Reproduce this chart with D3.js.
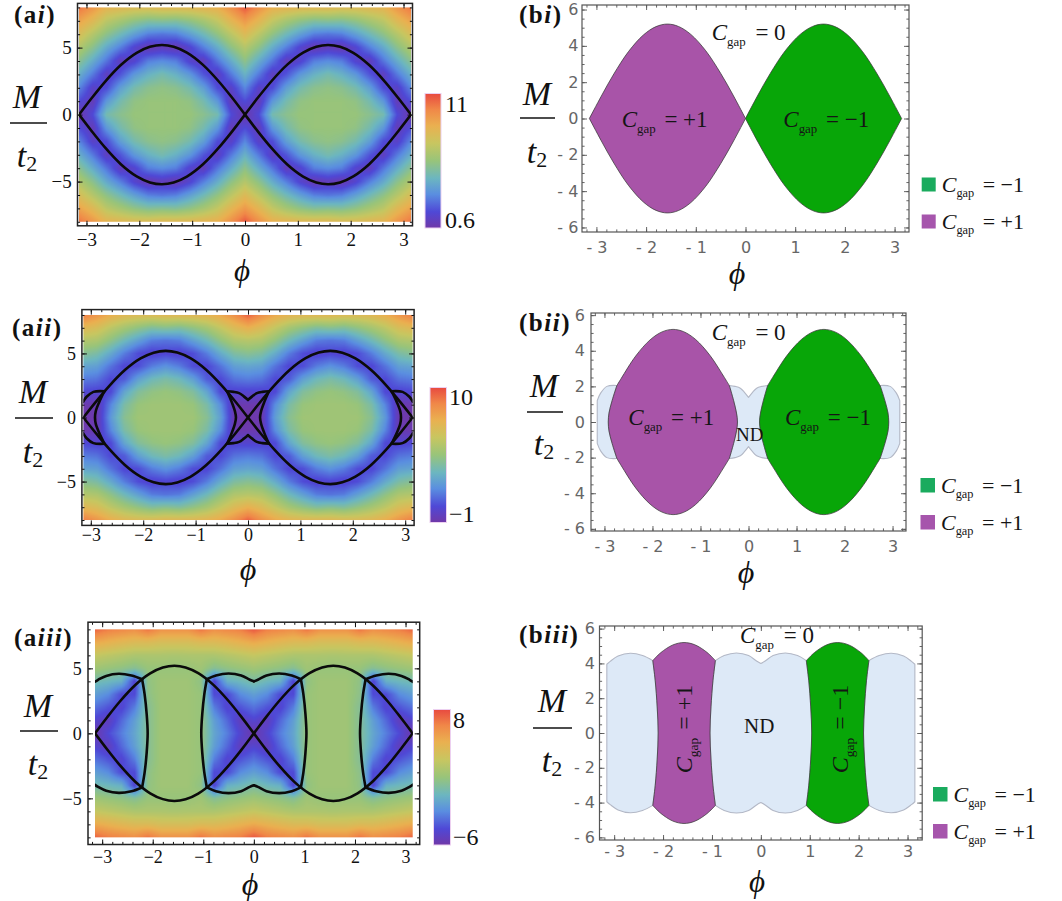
<!DOCTYPE html>
<html>
<head>
<meta charset="utf-8">
<script src="https://cdn.jsdelivr.net/npm/d3@7/dist/d3.min.js"></script>
<style>
  html,body{margin:0;padding:0;background:#fff;}
  svg{display:block;}
</style>
</head>
<body>
<svg id="fig" width="1062" height="901" xmlns="http://www.w3.org/2000/svg"></svg>
<script>
// ================= DATA =================
// phase boundary |M|/t2 versus phi for phi in [0, pi]
const lensPhi = [0, 0.25, 0.5, 0.8, 1.1, 1.35, 1.571, 1.8, 2.05, 2.35, 2.65, 2.9, 3.1416];
const lensM   = [0, 1.29, 2.49, 3.73, 4.63, 5.07, 5.2, 5.06, 4.61, 3.70, 2.45, 1.24, 0];

// panel (ii): region edges in the phi>0, M>=0 quadrant  [phi, M]
const edgeInnerII   = [[0.40,2.05],[0.31,1.2],[0.25,0.5],[0.23,0]];
const edgeOuterII   = [[2.74,2.05],[2.84,1.2],[2.905,0.5],[2.92,0]];
const ndTopCenterII = [[0.40,2.05],[0.28,2.0],[0.17,1.9],[0.08,1.65],[0,1.38]];
const ndTopEdgeII   = [[2.74,2.05],[2.95,2.0],[3.08,1.62],[3.15,1.2]];
// panel (iii)
const edgeInnerIII   = [[0.93,4.16],[0.98,3.0],[1.02,1.5],[1.04,0]];
const edgeOuterIII   = [[2.21,4.16],[2.16,3.0],[2.12,1.5],[2.10,0]];
const ndTopCenterIII = [[0.93,4.16],[0.75,4.45],[0.5,4.6],[0.25,4.45],[0.08,4.12],[0,4.0]];
const ndTopEdgeIII   = [[2.21,4.16],[2.42,4.45],[2.67,4.58],[2.92,4.42],[3.08,4.12],[3.15,3.95]];

// heat maps: values sampled at phi = 0..180 deg (columns) and |M|/t2 = 0..8 (rows)
const heatPhiDeg = [0,15,30,45,60,75,90,105,120,135,150,165,180];
const heatM = [0,1,2,3,4,5,6,7,8];
const heatAi = [
  [0.6,1.9,4.8,5.4,5.8,5.8,5.8,5.8,5.8,5.4,4.8,1.9,0.6],
  [1.9,1.0,3.5,4.8,5.6,5.8,5.8,5.8,5.6,4.8,3.5,1.0,1.9],
  [3.1,1.4,1.9,3.7,4.8,5.4,5.6,5.4,4.8,3.7,1.9,1.4,3.1],
  [4.3,2.8,1.2,2.1,3.5,4.3,4.8,4.3,3.5,2.1,1.2,2.8,4.2],
  [5.5,4.1,2.7,1.1,1.6,2.9,3.2,2.9,1.6,1.1,2.7,4.1,5.4],
  [6.6,5.5,4.1,2.9,1.6,0.8,1.1,0.8,1.6,2.9,4.0,5.4,6.5],
  [7.9,6.8,5.6,4.6,3.7,2.9,2.7,2.9,3.7,4.6,5.5,6.6,7.7],
  [9.2,8.2,7.0,6.2,5.6,5.2,5.3,5.2,5.6,6.2,6.8,8.0,8.9],
  [10.7,9.5,8.5,8.3,8.1,8.1,8.1,7.9,7.9,8.1,8.3,9.3,10.2]
];
const heatAii = [
  [-1.0,-0.8,2.3,4.0,4.7,4.7,4.7,4.7,4.7,4.0,2.1,-0.8,-1.0],
  [-0.8,-0.8,1.8,3.6,4.5,4.7,4.7,4.7,4.5,3.6,1.6,-0.7,-0.8],
  [0.1,0.1,0.3,2.5,3.8,4.3,4.5,4.3,3.8,2.5,0.3,0.1,0.3],
  [1.4,1.2,0.3,0.7,2.3,3.2,3.6,3.2,2.3,0.7,0.3,1.2,1.4],
  [2.5,2.3,1.2,0.2,0.4,1.4,1.9,1.4,0.4,0.2,1.2,2.3,2.5],
  [4.0,3.7,2.7,1.4,0.4,0.0,0.2,0.0,0.4,1.4,2.6,3.6,4.0],
  [5.4,5.2,4.3,3.2,2.3,1.4,1.2,1.4,2.3,3.2,4.2,5.1,5.3],
  [7.3,6.7,5.8,4.9,4.3,3.8,4.0,3.8,4.3,4.9,5.6,6.5,6.9],
  [9.5,8.4,7.6,7.1,6.9,6.9,6.9,6.7,6.7,6.9,7.4,8.2,8.9]
];
const heatAiii = [
  [-6.0,-4.6,-2.9,-1.5,1.0,1.3,1.3,1.3,0.3,-1.5,-2.9,-4.3,-6.0],
  [-4.6,-5.3,-3.5,-1.8,1.0,1.3,1.3,1.3,0.3,-1.8,-3.5,-5.3,-4.6],
  [-3.2,-4.0,-4.6,-2.9,1.0,1.3,1.3,1.3,0.3,-2.9,-4.6,-4.0,-3.2],
  [-1.8,-2.5,-4.3,-4.3,1.0,1.3,1.3,1.3,0.6,-4.3,-4.3,-2.5,-1.8],
  [-0.1,-0.7,-1.1,-4.6,0.7,1.3,1.3,1.3,0.7,-4.6,-1.1,-0.7,-0.4],
  [1.3,1.0,0.7,0.3,1.3,1.0,1.0,1.0,1.0,0.3,0.7,1.0,1.3],
  [2.7,2.4,2.1,1.8,1.8,1.8,1.7,1.8,1.8,1.8,2.1,2.4,2.7],
  [4.9,4.5,4.1,3.8,3.8,3.5,3.5,3.5,3.8,3.8,4.1,4.5,4.9],
  [7.6,6.6,6.3,6.0,6.9,5.9,5.9,5.9,6.9,6.0,6.3,6.6,7.3]
];

// colour bars
const cbRangeAi = [0.6, 11];
const cbRangeAii = [-1, 10];
const cbRangeAiii = [-6, 8];
const cbLabelsAi = ["11", "0.6"];
const cbLabelsAii = ["10", "\u22121"];
const cbLabelsAiii = ["8", "\u22126"];
const cbPos = [0, 0.12, 0.25, 0.37, 0.5, 0.63, 0.76, 0.88, 1];

// ticks
const aTicksX = [-3,-2,-1,0,1,2,3];
const aTicksY = [-5,0,5];
const bTicksX = [-3,-2,-1,0,1,2,3];
const bTicksY = [-6,-4,-2,0,2,4,6];

// labels
const legendValues = ["\u22121", "+1"];
const regionValues = {zero:"0", plus:"+1", minus:"\u22121"};

// ================= STYLE =================
const cbColors = ["#7038a8","#4f48d6","#5a8ee0","#6cb6c0","#98c47a","#c8c660","#eab050","#f08848","#e84a40"];
const COL = {plus:"#a854a8", minus:"#08a608", nd:"#dde9f7", ndStroke:"#b3b8c6",
             legMinus:"#1aab5e", legPlus:"#a655ac"};
const SERIF = "'Liberation Serif','DejaVu Serif',serif";
const SANS = "'DejaVu Sans',sans-serif";
const PI = Math.PI;

const layout = {
  ai:  {x:[77.5,412.5],  xd:[-3.17,3.17], y:[225.8,3.4],   yd:[-8.3,8.3]},
  aii: {x:[81.9,414.1],  xd:[-3.17,3.17], y:[525.4,309.6], yd:[-8.42,8.42]},
  aiii:{x:[88,419.7],    xd:[-3.28,3.28], y:[844.5,622.2], yd:[-8.55,8.55]},
  bi:  {x:[582,909],     xd:[-3.29,3.29], y:[232,5],       yd:[-6.25,6.25]},
  bii: {x:[591,906],     xd:[-3.28,3.28], y:[531,313],     yd:[-6.12,6.12]},
  biii:{x:[599.5,922.2], xd:[-3.3,3.3],   y:[840,626],     yd:[-6.15,6.15]}
};

// ================= HELPERS =================
const svg = d3.select('#fig');
const defs = svg.append('defs');
const mirP = pts => pts.map(([p,m]) => [-p, m]);
const mirM = pts => pts.map(([p,m]) => [p, -m]);
const rev = pts => pts.slice().reverse();
const fullEdge = half => half.concat(rev(mirM(half)).slice(1));
const lensPts = lensPhi.map((p,i) => [p, lensM[i]]);
const curveA = rev(lensPts).slice(0,-1).map(([p,m]) => [-p,-m]).concat(lensPts);
const curveB = mirM(curveA);
function lensBetween(a, b){
  return [a].concat(lensPts.filter(p => p[0] > a[0]+0.04 && p[0] < b[0]-0.04)).concat([b]);
}
function scales(L){
  return {x: d3.scaleLinear().domain(L.xd).range(L.x), y: d3.scaleLinear().domain(L.yd).range(L.y)};
}
function segPath(s, segs, closed){
  const ln = d3.line().x(d => s.x(d[0])).y(d => s.y(d[1])).curve(d3.curveCatmullRom.alpha(0.5));
  return segs.map((sg,i) => { const d = ln(sg); return i ? d.replace(/^M/, 'L') : d; }).join('') + (closed ? 'Z' : '');
}
function colorScale(range){
  return d3.scaleLinear().domain(cbPos.map(p => range[0] + p*(range[1]-range[0])))
    .range(cbColors).interpolate(d3.interpolateRgb).clamp(true);
}
function heatURL(grid, range, w, h){
  const cs = colorScale(range);
  const lut = d3.range(256).map(i => d3.rgb(cs(range[0] + i/255*(range[1]-range[0]))));
  const cv = document.createElement('canvas'); cv.width = w; cv.height = h;
  const ctx = cv.getContext('2d'); const im = ctx.createImageData(w, h);
  const stepPhi = (heatPhiDeg[1]-heatPhiDeg[0])*PI/180, stepM = heatM[1]-heatM[0];
  const nC = heatPhiDeg.length-1, nR = heatM.length-1, Mmax = heatM[nR];
  for (let j=0; j<h; j++){
    const M = Mmax - (j+0.5)/h*2*Mmax;
    let fy = Math.min(Math.abs(M)/stepM, nR); const r0 = Math.min(Math.floor(fy), nR-1); fy -= r0;
    for (let i=0; i<w; i++){
      const phi = -PI + (i+0.5)/w*2*PI;
      let fx = Math.min(Math.abs(phi)/stepPhi, nC); const c0 = Math.min(Math.floor(fx), nC-1); fx -= c0;
      const v = (1-fy)*((1-fx)*grid[r0][c0] + fx*grid[r0][c0+1]) + fy*((1-fx)*grid[r0+1][c0] + fx*grid[r0+1][c0+1]);
      let t = (v-range[0])/(range[1]-range[0]); t = Math.max(0, Math.min(1, t));
      const c = lut[Math.round(t*255)], k = (j*w+i)*4;
      im.data[k]=c.r; im.data[k+1]=c.g; im.data[k+2]=c.b; im.data[k+3]=255;
    }
  }
  ctx.putImageData(im, 0, 0);
  return cv.toDataURL('image/png');
}
function axesFrame(g, s, L, o){
  const [yb, yt] = L.y, [xl, xr] = L.x;
  const rng = (lo, hi, st) => d3.range(Math.ceil(lo/st), Math.floor(hi/st)+1).map(k => +(k*st).toFixed(3));
  const xMin = rng(L.xd[0], L.xd[1], o.xMinStep), yMin = rng(L.yd[0], L.yd[1], o.yMinStep);
  const sides = [
    {fn:d3.axisBottom, sc:s.x, tr:`translate(0,${yb})`, maj:o.xMaj, min:xMin, lab:true, pad:o.padX},
    {fn:d3.axisTop,    sc:s.x, tr:`translate(0,${yt})`, maj:o.xMaj, min:xMin, lab:false},
    {fn:d3.axisLeft,   sc:s.y, tr:`translate(${xl},0)`, maj:o.yMaj, min:yMin, lab:true, pad:o.padY},
    {fn:d3.axisRight,  sc:s.y, tr:`translate(${xr},0)`, maj:o.yMaj, min:yMin, lab:false}
  ];
  sides.forEach(sd => {
    const gm = g.append('g').attr('transform', sd.tr)
      .call(sd.fn(sd.sc).tickValues(sd.min).tickSize(-o.minLen).tickSizeOuter(0).tickFormat(''));
    gm.select('.domain').remove();
    gm.selectAll('line').attr('stroke', o.tickColor).attr('stroke-width', o.tickW);
    const ga = g.append('g').attr('transform', sd.tr)
      .call(sd.fn(sd.sc).tickValues(sd.maj).tickSize(-o.majLen).tickSizeOuter(0)
        .tickPadding(sd.lab ? sd.pad : 0).tickFormat(sd.lab ? o.fmt : ''));
    ga.select('.domain').remove();
    ga.selectAll('line').attr('stroke', o.tickColor).attr('stroke-width', o.tickW);
    ga.selectAll('text').attr('font-family', o.font).attr('font-size', o.fs).attr('fill', o.labColor);
  });
  g.append('rect').attr('x', xl).attr('y', yt).attr('width', xr-xl).attr('height', yb-yt)
    .attr('fill', 'none').attr('stroke', o.frameColor).attr('stroke-width', o.frameW);
}
const fmtA = d => d < 0 ? '\u2212' + (-d) : String(d);
const fmtB = d => d < 0 ? '- ' + (-d) : String(d);

function title(x, y, letter, roman){
  const t = svg.append('text').attr('x', x).attr('y', y).attr('font-family', SERIF)
    .attr('font-weight', 'bold').attr('font-size', 25).attr('letter-spacing', 1.5).attr('fill', '#111');
  t.append('tspan').text('(' + letter);
  t.append('tspan').attr('font-style', 'italic').text(roman);
  t.append('tspan').text(')');
}
function mLabel(cx, bM, lx0, lx1, ly, bt){
  svg.append('text').attr('x', cx).attr('y', bM).attr('text-anchor', 'middle').attr('font-family', SERIF)
    .attr('font-style', 'italic').attr('font-size', 34).attr('fill', '#111').text('M');
  svg.append('line').attr('x1', lx0).attr('x2', lx1).attr('y1', ly).attr('y2', ly).attr('stroke', '#111').attr('stroke-width', 1.4);
  const t = svg.append('text').attr('x', cx).attr('y', bt).attr('text-anchor', 'middle').attr('font-family', SERIF)
    .attr('font-size', 34).attr('fill', '#111');
  t.append('tspan').attr('font-style', 'italic').text('t');
  t.append('tspan').attr('font-size', 22).attr('dy', 4).text('2');
}
function phiLabel(cx, by, fs){
  svg.append('text').attr('x', cx).attr('y', by).attr('text-anchor', 'middle').attr('font-family', SERIF)
    .attr('font-style', 'italic').attr('font-size', fs || 32).attr('fill', '#111').text('\u03d5');
}
function cgap(g, x, y, val, fs, extra){
  const t = g.append('text').attr('x', x).attr('y', y).attr('font-family', SERIF).attr('font-size', fs).attr('fill', '#151515');
  t.append('tspan').attr('font-style', 'italic').text('C');
  t.append('tspan').attr('font-size', fs*0.56).attr('dy', fs*0.26).text('gap');
  t.append('tspan').attr('dy', -fs*0.26).attr('dx', extra).text(' = ' + val);
  return t;
}
function colorbar(id, x, y, w, h, labels, lx, by0, by1){
  const gr = defs.append('linearGradient').attr('id', id).attr('x1', 0).attr('y1', 1).attr('x2', 0).attr('y2', 0);
  cbPos.forEach((p,i) => gr.append('stop').attr('offset', p).attr('stop-color', cbColors[i]));
  svg.append('rect').attr('x', x).attr('y', y).attr('width', w).attr('height', h)
    .attr('fill', `url(#${id})`).attr('stroke', '#ecd0f0').attr('stroke-width', 1);
  svg.append('text').attr('x', lx).attr('y', by0).attr('font-family', SERIF).attr('font-size', 24).attr('fill', '#111').text(labels[0]);
  svg.append('text').attr('x', lx).attr('y', by1).attr('font-family', SERIF).attr('font-size', 24).attr('fill', '#111').text(labels[1]);
}
function legend(x, ys, sq){
  [COL.legMinus, COL.legPlus].forEach((c,i) => {
    svg.append('rect').attr('x', x).attr('y', ys[i]-sq).attr('width', sq).attr('height', sq).attr('fill', c);
    cgap(svg, x+sq+6, ys[i], legendValues[i], 22, 3);
  });
}

// ================= PANEL (a) =================
function drawA(key, grid, range, extraCurves, tickFs, padX, padY){
  const L = layout[key], s = scales(L), g = svg.append('g');
  const hx0 = s.x(-PI), hx1 = s.x(PI), hy0 = s.y(heatM[heatM.length-1]), hy1 = s.y(-heatM[heatM.length-1]);
  g.append('image').attr('x', hx0).attr('y', hy0).attr('width', hx1-hx0).attr('height', hy1-hy0)
    .attr('preserveAspectRatio', 'none').attr('href', heatURL(grid, range, Math.round(hx1-hx0), Math.round(hy1-hy0)));
  const cid = 'clip-' + key;
  defs.append('clipPath').attr('id', cid).append('rect').attr('x', hx0).attr('y', hy0).attr('width', hx1-hx0).attr('height', hy1-hy0);
  const cg = g.append('g').attr('clip-path', `url(#${cid})`).attr('fill', 'none')
    .attr('stroke', '#0b0b0b').attr('stroke-width', 2.6).attr('stroke-linejoin', 'round').attr('stroke-linecap', 'round');
  const mono = d3.line().x(d => s.x(d[0])).y(d => s.y(d[1])).curve(d3.curveMonotoneX);
  [curveA, curveB].forEach(c => cg.append('path').attr('d', mono(c)));
  extraCurves.forEach(c => cg.append('path').attr('d', segPath(s, [c], false)));
  axesFrame(g, s, L, {xMaj:aTicksX, yMaj:aTicksY, xMinStep:0.2, yMinStep:1, majLen:5, minLen:2.6,
    fmt:fmtA, font:SERIF, fs:tickFs, labColor:'#111', tickColor:'#111', tickW:1, padX, padY,
    frameColor:'#222', frameW:1.5});
}
function extraFor(inner, outer, ndC, ndE){
  return [fullEdge(inner), fullEdge(outer), mirP(fullEdge(inner)), mirP(fullEdge(outer)),
    ndC, mirP(ndC), mirM(ndC), mirM(mirP(ndC)), ndE, mirP(ndE), mirM(ndE), mirM(mirP(ndE))];
}
drawA('ai', heatAi, cbRangeAi, [], 19, 6.5, 5.8);
drawA('aii', heatAii, cbRangeAii, extraFor(edgeInnerII, edgeOuterII, ndTopCenterII, ndTopEdgeII), 18, 3, 6);
drawA('aiii', heatAiii, cbRangeAiii, extraFor(edgeInnerIII, edgeOuterIII, ndTopCenterIII, ndTopEdgeIII), 18, 5.5, 6.3);

colorbar('cb1', 425, 93.5, 16, 134.5, cbLabelsAi, 445, 112, 228);
colorbar('cb2', 430, 387.5, 16.5, 135, cbLabelsAii, 449, 405, 522);
colorbar('cb3', 433.5, 709.5, 17, 135.5, cbLabelsAiii, 453, 728, 845);

// ================= PANEL (b) =================
function bFrame(key, g, padX, padY){
  const L = layout[key], s = scales(L);
  axesFrame(g, s, L, {xMaj:bTicksX, yMaj:bTicksY, xMinStep:0.2, yMinStep:0.5, majLen:5, minLen:2.6,
    fmt:fmtB, font:SANS, fs:16, labColor:'#666', tickColor:'#555', tickW:0.9, padX, padY,
    frameColor:'#555', frameW:1.2});
}
function regionStyle(p, fill){
  return p.attr('fill', fill).attr('stroke', '#3a3a3a').attr('stroke-opacity', 0.85).attr('stroke-width', 0.9).attr('stroke-linejoin', 'round');
}
function ndStyle(p){
  return p.attr('fill', COL.nd).attr('stroke', COL.ndStroke).attr('stroke-width', 1.1).attr('stroke-linejoin', 'round');
}
function drawBsplit(key, inner, outer, ndC, ndE){
  const L = layout[key], s = scales(L), g = svg.append('g');
  const centerSegs = [mirP(ndC), rev(ndC), fullEdge(inner), mirM(ndC), rev(mirM(mirP(ndC))), rev(fullEdge(mirP(inner)))];
  const eLast = ndE[ndE.length-1];
  const rightSegs = [ndE, [eLast, [eLast[0], -eLast[1]]], rev(mirM(ndE)), rev(fullEdge(outer))];
  const leftSegs = rightSegs.map(mirP);
  [centerSegs, rightSegs, leftSegs].forEach(sg => ndStyle(g.append('path').attr('d', segPath(s, sg, true))));
  const top = lensBetween(inner[0], outer[0]);
  const greenSegs = [top, fullEdge(outer), rev(mirM(top)), rev(fullEdge(inner))];
  regionStyle(g.append('path').attr('d', segPath(s, greenSegs, true)), COL.minus);
  regionStyle(g.append('path').attr('d', segPath(s, greenSegs.map(mirP), true)), COL.plus);
  return {g, s};
}

// (b i)
{
  const L = layout.bi, s = scales(L), g = svg.append('g');
  const green = [lensPts, rev(mirM(lensPts))];
  regionStyle(g.append('path').attr('d', segPath(s, green.map(mirP), true)), COL.plus);
  regionStyle(g.append('path').attr('d', segPath(s, green, true)), COL.minus);
  bFrame('bi', g, 10, 3.7);
  cgap(g, 711.7, 40, regionValues.zero, 23, 4);
  cgap(g, 621.7, 127, regionValues.plus, 23, 3);
  cgap(g, 783.3, 127, regionValues.minus, 23, 3);
}
// (b ii)
{
  const {g} = drawBsplit('bii', edgeInnerII, edgeOuterII, ndTopCenterII, ndTopEdgeII);
  bFrame('bii', g, 9.5, 6);
  cgap(g, 711.7, 340, regionValues.zero, 23, 4);
  cgap(g, 628.3, 425, regionValues.plus, 23, 3);
  cgap(g, 785, 425, regionValues.minus, 23, 3);
  g.append('text').attr('x', 736).attr('y', 441).attr('font-family', SERIF).attr('font-size', 19).attr('fill', '#151515').text('ND');
}
// (b iii)
{
  const {g} = drawBsplit('biii', edgeInnerIII, edgeOuterIII, ndTopCenterIII, ndTopEdgeIII);
  bFrame('biii', g, 5.5, 4.5);
  cgap(g, 740, 643, regionValues.zero, 23, 4);
  g.append('text').attr('x', 744).attr('y', 733).attr('font-family', SERIF).attr('font-size', 21).attr('fill', '#151515').text('ND');
  cgap(g, 0, 0, regionValues.plus, 24, 2).attr('text-anchor', 'middle').attr('transform', 'translate(692,729) rotate(-90)');
  cgap(g, 0, 0, regionValues.minus, 24, 2).attr('text-anchor', 'middle').attr('transform', 'translate(848,729) rotate(-90)');
}

legend(921.7, [191.5, 228.5], 14);
legend(920.5, [492.5, 529.5], 14.5);
legend(933, [801.5, 838.5], 14.5);

// titles and axis labels
title(14, 23, 'a', 'i');
title(12, 336, 'a', 'ii');
title(14, 646, 'a', 'iii');
title(519, 23, 'b', 'i');
title(519, 331, 'b', 'ii');
title(519, 643, 'b', 'iii');

mLabel(27, 108, 10, 47, 123, 167);
mLabel(33, 403, 15, 53, 418, 463);
mLabel(38, 717, 20, 58, 731, 775);
mLabel(537, 105, 520, 555, 118, 163);
mLabel(544, 397, 527, 563, 412, 455);
mLabel(552, 712, 533, 572, 728, 772);

phiLabel(242, 281, 31);
phiLabel(248, 580);
phiLabel(250, 895);
phiLabel(737, 284);
phiLabel(746, 583);
phiLabel(757, 892, 31);
</script>
</body>
</html>
